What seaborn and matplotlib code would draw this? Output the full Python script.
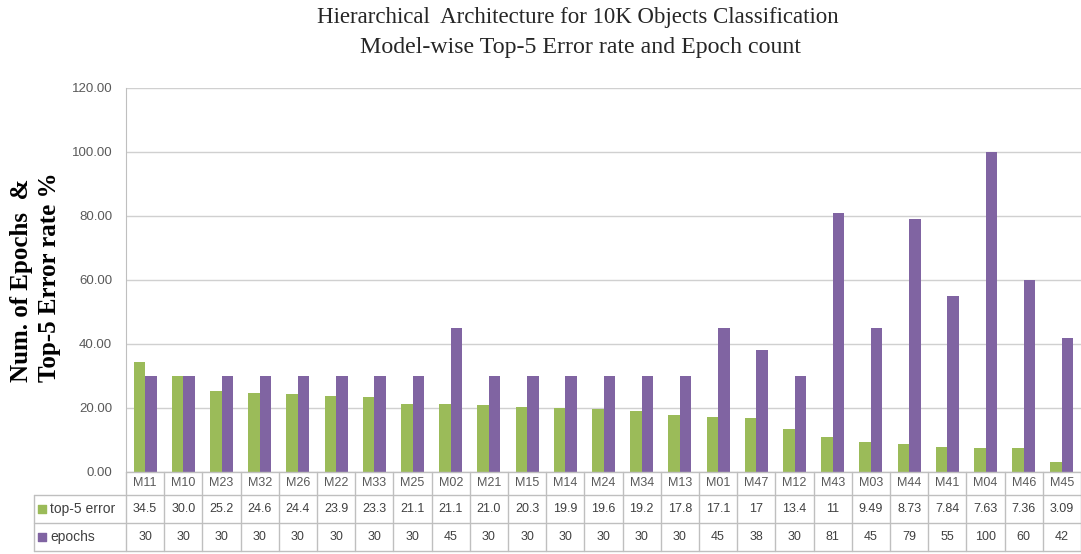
import matplotlib
matplotlib.use("Agg")
import matplotlib.pyplot as plt
import matplotlib.transforms as mtransforms
import pandas as pd
import seaborn as sns

# ---- data ----
models = ["M11", "M10", "M23", "M32", "M26", "M22", "M33", "M25", "M02", "M21",
          "M15", "M14", "M24", "M34", "M13", "M01", "M47", "M12", "M43", "M03",
          "M44", "M41", "M04", "M46", "M45"]
top5_error = [34.5, 30.0, 25.2, 24.6, 24.4, 23.9, 23.3, 21.1, 21.1, 21.0,
              20.3, 19.9, 19.6, 19.2, 17.8, 17.1, 17, 13.4, 11, 9.49,
              8.73, 7.84, 7.63, 7.36, 3.09]
top5_labels = ["34.5", "30.0", "25.2", "24.6", "24.4", "23.9", "23.3", "21.1", "21.1", "21.0",
               "20.3", "19.9", "19.6", "19.2", "17.8", "17.1", "17", "13.4", "11", "9.49",
               "8.73", "7.84", "7.63", "7.36", "3.09"]
epochs = [30, 30, 30, 30, 30, 30, 30, 30, 45, 30,
          30, 30, 30, 30, 30, 45, 38, 30, 81, 45,
          79, 55, 100, 60, 42]
series_names = ["top-5 error", "epochs"]
series_colors = ["#9BBB59", "#8064A2"]
yticks = [0, 20, 40, 60, 80, 100, 120]

df = pd.DataFrame({"model": models, series_names[0]: top5_error, series_names[1]: epochs})
long = df.melt(id_vars="model", var_name="series", value_name="value")

sns.set_style("white")
plt.rcParams["font.family"] = ["Liberation Sans", "DejaVu Sans"]

W, H = 1081, 554
fig = plt.figure(figsize=(W / 100, H / 100), dpi=100)
ax_left, ax_bottom, ax_top = 126, 472, 88
ax = fig.add_axes([ax_left / W, 1 - ax_bottom / H, (W - ax_left) / W, (ax_bottom - ax_top) / H])

sns.barplot(data=long, x="model", y="value", hue="series", order=models,
            hue_order=series_names, palette=series_colors, width=0.6, gap=0,
            saturation=1, ax=ax, legend=False, edgecolor="none")

ax.set_xlim(-0.5, len(models) - 0.5)
ax.set_ylim(0, 120)
ax.set_yticks(yticks)
ax.set_yticklabels([f"{v:.2f}" for v in yticks], color="#595959", fontsize=9.5)
ax.tick_params(axis="y", length=0, pad=10)
ax.set_xticks([])
ax.set_xlabel("")
ax.set_ylabel("")
ax.yaxis.grid(True, color="#D0D0D0", linewidth=1)
ax.set_axisbelow(True)
for side in ["top", "right", "bottom"]:
    ax.spines[side].set_visible(False)
ax.spines["left"].set_color("#BFBFBF")

# ---- data table under the category axis ----
line_kw = dict(color="#BFBFBF", linewidth=1, clip_on=False)
blend = mtransforms.blended_transform_factory(ax.transData, ax.transAxes)
px = 1 / float(ax_bottom - ax_top)
r0, r1, r2, r3 = 0.0, -23 * px, -51 * px, -79 * px
left_col = (34 - ax_left) / float(W - ax_left)
n = len(models)

for y in (r0, r1, r2, r3):
    if y == r0:
        ax.plot([-0.5, n - 0.5], [y, y], transform=blend, **line_kw)
    else:
        ax.plot([left_col, 1], [y, y], transform=ax.transAxes, **line_kw)
for i in range(n + 1):
    ax.plot([i - 0.5, i - 0.5], [r0, r3], transform=blend, **line_kw)
ax.plot([left_col, left_col], [r1, r3], transform=ax.transAxes, **line_kw)

cell_fs = 9
for i, m in enumerate(models):
    ax.text(i, (r0 + r1) / 2, m, transform=blend, ha="center", va="center",
            fontsize=cell_fs, color="#595959")
    ax.text(i, (r1 + r2) / 2, top5_labels[i], transform=blend, ha="center", va="center",
            fontsize=cell_fs, color="#404040")
    ax.text(i, (r2 + r3) / 2, str(epochs[i]), transform=blend, ha="center", va="center",
            fontsize=cell_fs, color="#404040")

for (ya, yb), name, col in zip([(r1, r2), (r2, r3)], series_names, series_colors):
    yc = (ya + yb) / 2
    ax.scatter([left_col + 0.0085], [yc], marker="s", s=30, color=col,
               transform=ax.transAxes, clip_on=False)
    ax.text(left_col + 0.017, yc, name, transform=ax.transAxes, ha="left", va="center",
            fontsize=10, color="#404040")

# ---- titles ----
serif = ["Liberation Serif", "DejaVu Serif"]
fig.text(578 / W, 1 - 18 / H, "Hierarchical  Architecture for 10K Objects Classification",
         ha="center", va="center", fontsize=16.5, family=serif, color="#262626")
fig.text(580 / W, 1 - 47 / H, "Model-wise Top-5 Error rate and Epoch count",
         ha="center", va="center", fontsize=17.2, family=serif, color="#262626")

fig.text(22 / W, 1 - 280 / H, "Num. of Epochs  &", rotation=90, ha="center",
         va="center", fontsize=18, fontweight="bold", family=serif, color="#000000")
fig.text(50 / W, 1 - 277 / H, "Top-5 Error rate %", rotation=90, ha="center",
         va="center", fontsize=18, fontweight="bold", family=serif, color="#000000")

fig.savefig("out.png", dpi=100)
